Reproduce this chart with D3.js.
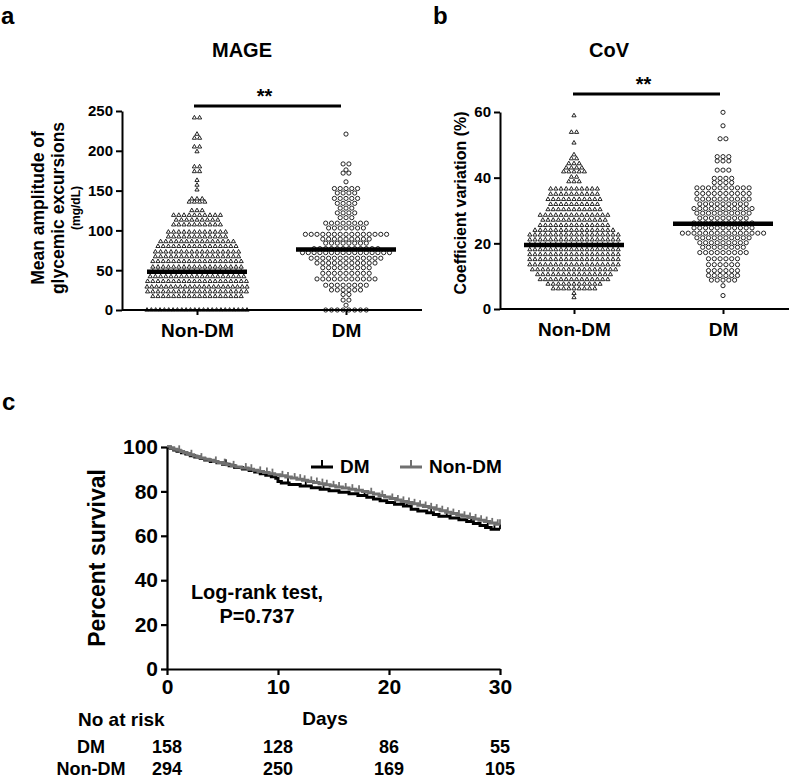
<!DOCTYPE html>
<html><head><meta charset="utf-8">
<script src="https://cdn.jsdelivr.net/npm/d3@7"></script>
<style>
body{margin:0;background:#fff}
text{font-family:"Liberation Sans",Arial,Helvetica,sans-serif;font-weight:bold;fill:#000}
</style>
</head><body>
<svg id="chart" width="799" height="779"></svg>
<script>
// ---------------- DATA ----------------
const groups = ["Non-DM", "DM"];

// Panel a: MAGE (mg/dL)
const mageTicks = [0, 50, 100, 150, 200, 250];
const mageNonDM = [
 243,240,221,218,214,206,204,199,182,178,176,172,163,157,151,
 140,140,139,138,136,135,134,
 125,126,124,
 119,119,120,118,119,120,119,118,120,119,
 113,114,112,113,113,114,112,113,114,
 107,108,106,107,107,108,106,107,108,107,
 98,99,97,98,98,99,97,98,99,98,97,98,
 92,93,91,92,92,93,91,92,93,92,91,92,
 86,87,85,86,86,87,85,86,87,86,85,86,87,86,85,
 80,81,79,80,80,81,79,80,81,80,79,80,81,80,79,80,
 73,74,72,73,73,74,72,73,74,73,72,73,74,73,72,73,74,
 67,68,66,67,67,68,66,67,68,67,66,67,68,67,66,67,68,
 61,62,60,61,61,62,60,61,62,61,60,61,62,61,60,61,62,61,
 54,55,53,54,54,55,53,54,55,54,53,54,55,54,53,54,55,54,
 48,49,47,48,48,49,47,48,49,48,47,48,49,48,47,48,49,48,
 42,43,41,42,42,43,41,42,43,42,41,42,43,42,41,42,43,42,41,
 36,37,35,36,36,37,35,36,37,36,35,36,37,36,35,36,37,36,35,36,
 29,30,28,29,29,30,28,29,30,29,28,29,30,29,28,29,30,29,28,29,30,29,
 23,24,22,23,23,24,22,23,24,23,22,23,24,23,22,23,24,23,22,23,
 17,18,16,17,17,18,16,17,18,17,16,17,18,17,16,17,18,17,
 0,0,0,0,0,0,0,0,0,0,0,0,0,0,0,0,0,0,0,0,0,0,0,0
];
const mageDM = [
 221,185,182,176,174,170,161,
 153,152,154,151,153,
 147,148,146,147,
 140,141,139,140,141,
 134,135,133,134,
 128,129,127,
 122,123,121,122,
 116,117,115,
 109,110,108,109,110,108,109,110,
 103,104,102,103,104,102,103,
 95,96,94,95,96,94,95,96,94,95,96,94,95,96,95,
 89,90,88,89,90,88,89,90,89,
 84,85,83,84,85,83,84,84,
 77,78,76,77,78,76,77,78,77,76,77,78,
 72,73,71,72,73,71,72,73,72,71,72,73,72,71,72,73,
 65,66,64,65,66,64,65,66,65,64,65,66,65,
 59,60,58,59,60,58,59,60,59,58,59,
 53,54,52,53,54,52,53,54,53,
 46,47,45,46,47,45,46,47,46,
 39,40,38,39,40,38,39,40,39,38,39,
 31,32,30,31,32,30,31,32,
 25,26,24,25,26,25,
 19,20,
 12,13,
 6,
 0,0,0,0,0,0,0,0
];
const mageCentre = [48, 76];

// Panel b: CoV (%)
const covTicks = [0, 20, 40, 60];
const covNonDM = [
 58.9,54.0,53.7,50.6,47.0,45.9,45.7,44.4,44.3,44.2,43.1,43.0,42.9,43.0,
 41.9,41.8,41.7,41.8,41.9,40.3,40.1,38.8,38.7,38.9,
 36.5,36.6,36.7,36.6,36.5,36.6,36.7,36.6,36.5,36.6,
 34.9,35.0,35.1,35.0,34.9,35.0,35.1,35.0,34.9,35.0,
 33.3,33.4,33.5,33.4,33.3,33.4,33.5,33.4,33.3,33.4,33.5,
 31.8,31.9,32.0,31.9,31.8,31.9,32.0,31.9,31.8,31.9,
 30.2,30.3,30.4,30.3,30.2,30.3,30.4,30.3,30.2,30.3,30.4,
 28.5,28.6,28.7,28.6,28.5,28.6,28.7,28.6,28.5,28.6,28.7,28.6,28.5,28.6,
 27.0,27.1,27.2,27.1,27.0,27.1,27.2,27.1,27.0,27.1,27.2,27.1,27.0,
 25.4,25.5,25.6,25.5,25.4,25.5,25.6,25.5,25.4,25.5,25.6,25.5,25.4,25.5,
 23.9,24.0,24.1,24.0,23.9,24.0,24.1,24.0,23.9,24.0,24.1,24.0,23.9,24.0,24.1,24.0,
 22.5,22.6,22.7,22.6,22.5,22.6,22.7,22.6,22.5,22.6,22.7,22.6,22.5,22.6,22.7,22.6,22.5,22.6,
 21.0,21.1,21.2,21.1,21.0,21.1,21.2,21.1,21.0,21.1,21.2,21.1,21.0,21.1,21.2,21.1,21.0,21.1,
 19.5,19.6,19.7,19.6,19.5,19.6,19.7,19.6,19.5,19.6,19.7,19.6,19.5,19.6,19.7,19.6,19.5,19.6,
 18.0,18.1,18.2,18.1,18.0,18.1,18.2,18.1,18.0,18.1,18.2,18.1,18.0,18.1,18.2,18.1,18.0,18.1,
 16.5,16.6,16.7,16.6,16.5,16.6,16.7,16.6,16.5,16.6,16.7,16.6,16.5,16.6,16.7,16.6,16.5,16.6,
 15.0,15.1,15.2,15.1,15.0,15.1,15.2,15.1,15.0,15.1,15.2,15.1,15.0,15.1,15.2,15.1,15.0,15.1,
 13.4,13.5,13.6,13.5,13.4,13.5,13.6,13.5,13.4,13.5,13.6,13.5,13.4,13.5,13.6,13.5,13.4,13.5,
 11.9,12.0,12.1,12.0,11.9,12.0,12.1,12.0,11.9,12.0,12.1,12.0,11.9,12.0,12.1,12.0,11.9,
 10.4,10.5,10.6,10.5,10.4,10.5,10.6,10.5,10.4,10.5,10.6,10.5,10.4,10.5,10.6,
 8.9,9.0,9.1,9.0,8.9,9.0,9.1,9.0,8.9,9.0,9.1,9.0,8.9,9.0,
 7.5,7.6,7.7,7.6,7.5,7.6,7.7,7.6,7.5,7.6,7.7,
 6.1,6.2,6.3,6.2,6.1,6.2,6.3,6.2,6.1,
 4.8,3.5
];
const covDM = [
 59.9,55.8,52.1,51.6,46.6,46.4,46.2,45.2,45.0,45.1,
 42.3,42.2,42.4,39.8,39.8,39.8,39.8,38.5,38.5,38.5,38.5,
 36.8,36.9,37.0,36.9,36.8,36.9,37.0,36.9,36.8,36.9,
 35.1,35.2,35.3,35.2,35.1,35.2,35.3,35.2,35.1,35.2,
 33.4,33.5,33.6,33.5,33.4,33.5,33.6,33.5,33.4,33.5,
 31.9,32.0,32.1,32.0,31.9,32.0,32.1,32.0,31.9,
 30.5,30.6,30.7,30.6,30.5,30.6,30.7,30.6,30.5,30.6,30.7,
 29.1,29.2,29.3,29.2,29.1,29.2,29.3,29.2,29.1,29.2,
 27.6,27.7,27.8,27.7,27.6,27.7,27.8,27.7,27.6,
 26.1,26.2,26.3,26.2,26.1,26.2,26.3,26.2,26.1,26.2,26.3,
 24.6,24.7,24.8,24.7,24.6,24.7,24.8,24.7,24.6,24.7,24.8,
 23.0,23.1,23.2,23.1,23.0,23.1,23.2,23.1,23.0,23.1,23.2,23.1,23.0,23.1,23.2,
 21.6,21.7,21.8,21.7,21.6,21.7,21.8,21.7,21.6,21.7,
 20.1,20.2,20.3,20.2,20.1,20.2,20.3,20.2,20.1,
 18.7,18.8,18.9,18.8,18.7,18.8,18.9,18.8,
 17.1,17.2,17.3,17.2,17.1,17.2,17.3,17.2,17.1,
 15.3,15.3,15.3,15.3,15.3,15.3,
 13.5,13.5,13.5,13.5,13.5,13.5,
 11.7,11.7,11.7,11.7,11.7,11.7,
 10.2,10.2,10.2,10.2,10.2,10.2,
 8.8,8.8,8.8,8.8,8.8,
 7.1,4.1
];
const covCentre = [19.5, 26];

// Panel c: Kaplan-Meier survival (%), step points
const kmDayTicks = [0, 10, 20, 30];
const kmPctTicks = [0, 20, 40, 60, 80, 100];
const dmTimes = [0,0.3,0.6,0.9,1.3,1.7,2.1,2.5,3.0,3.4,3.9,4.5,5.0,5.6,6.1,6.8,7.4,7.9,8.4,8.9,9.4,9.8,10.0,10.3,11.0,12.0,13.0,13.8,14.6,15.5,16.4,17.2,18.0,18.6,19.2,19.8,20.5,21.3,22.0,22.6,23.4,24.0,24.5,25.5,26.3,27.0,27.6,28.2,28.7,29.2];
const dmSurv  = [100,99.4,98.7,98.1,97.4,96.8,96.1,95.5,94.8,94.2,93.5,92.9,92.2,91.5,90.8,90.1,89.4,88.7,88.0,87.3,86.6,85.9,84.5,83.8,83.1,82.4,81.7,81.0,80.3,79.6,78.9,78.2,77.4,76.6,75.8,75.0,74.2,73.4,72.0,71.2,70.4,69.6,68.8,68.0,67.2,66.4,65.5,64.6,63.7,63.0];
const nonTimes = [0,0.3,0.6,0.9,1.2,1.5,1.8,2.1,2.4,2.7,3.0,3.4,3.8,4.2,4.6,5.0,5.4,5.8,6.2,6.7,7.3,7.8,8.2,8.7,9.2,9.7,10.2,10.7,11.2,11.7,12.2,12.7,13.2,13.7,14.2,14.7,15.2,15.8,16.4,17.0,17.6,18.1,18.6,19.1,19.6,20.1,20.6,21.1,21.6,22.1,22.6,23.1,23.6,24.1,24.6,25.1,25.6,26.1,26.6,27.1,27.6,28.1,28.6,29.1,29.6];
const nonSurv  = [100,99.5,99.0,98.5,98.0,97.5,97.0,96.5,96.0,95.5,95.0,94.5,94.0,93.5,93.0,92.5,92.0,91.5,91.0,90.5,90.0,89.5,89.0,88.5,88.0,87.5,87.0,86.5,86.0,85.5,85.0,84.5,84.0,83.5,83.0,82.5,82.0,81.5,81.0,80.5,80.0,79.4,78.8,78.2,77.5,76.8,76.1,75.5,75.0,74.4,73.8,73.2,72.6,72.0,71.3,70.6,70.0,69.4,68.8,68.2,67.6,67.0,66.4,65.8,65.2];
const dmCensored  = [5.3,10.9,12.5,14.1,17.8,21.6,23.8,25.2,27.4,28.9,29.5,30];
const nonCensored = [1.1,2.2,3.1,4.4,5.2,6.0,7.1,7.6,8.4,9.0,9.5,10.4,10.9,11.5,12.0,12.4,13.0,13.5,14.0,14.4,15.0,15.5,16.1,16.7,17.3,18.4,19.4,20.3,20.8,21.3,21.8,22.3,22.8,23.3,23.8,24.3,24.8,25.3,25.8,26.3,26.8,27.3,27.8,28.3,28.8,29.3,29.8,30];
const riskDays = [0, 10, 20, 30];
const riskDM = [158, 128, 86, 55];
const riskNonDM = [294, 250, 169, 105];

// ---------------- DRAW ----------------
const svg = d3.select("#chart");
const FONT = '"Liberation Sans",Arial,Helvetica,sans-serif';

function dotPanel(opt) {
  const g = svg.append("g");
  const y = d3.scaleLinear().domain([0, opt.max]).range([opt.y0, opt.yTop]);
  const x = d3.scalePoint().domain(groups).range(opt.catX);

  [opt.a, opt.b].forEach((vals, gi) => {
    const cx = x(groups[gi]);
    const pts = vals.map(v => ({v, py: y(v)})).sort((p, q) => q.py - p.py);
    const rows = [];
    pts.forEach(p => {
      const r = rows[rows.length - 1];
      if (r && r.start - p.py < 3.5) r.items.push(p);
      else rows.push({start: p.py, items: [p]});
    });
    const sp = gi === 0 ? opt.spT : opt.spC;
    rows.forEach(r => {
      const n = r.items.length;
      const my = d3.mean(r.items, p => p.py);
      const dx = n > 1 ? Math.min(sp, opt.maxW / (n - 1)) : 0;
      r.items.forEach((p, i) => { p.px = cx + (i - (n - 1) / 2) * dx; p.ry = my; });
    });
    const all = rows.flatMap(r => r.items);
    if (gi === 0) {
      g.selectAll(null).data(all).enter().append("path")
        .attr("d", d3.symbol(d3.symbolTriangle, 7.5)())
        .attr("transform", d => `translate(${d.px},${d.ry})`)
        .attr("fill", "#fff").attr("stroke", "#000").attr("stroke-width", 0.85);
    } else {
      g.selectAll(null).data(all).enter().append("circle")
        .attr("cx", d => d.px).attr("cy", d => d.ry).attr("r", 2.1)
        .attr("fill", "#fff").attr("stroke", "#000").attr("stroke-width", 0.85);
    }
  });

  g.selectAll(null).data(opt.centre).enter().append("line")
    .attr("x1", (d, i) => x(groups[i]) - 50).attr("x2", (d, i) => x(groups[i]) + 50)
    .attr("y1", d => y(d)).attr("y2", d => y(d))
    .attr("stroke", "#000").attr("stroke-width", 4.5);

  const ya = g.append("g").attr("transform", `translate(${opt.axX},0)`)
    .call(d3.axisLeft(y).tickValues(opt.ticks).tickSize(6).tickSizeOuter(0).tickPadding(3));
  ya.select(".domain").attr("stroke-width", 2);
  ya.selectAll(".tick line").attr("stroke-width", 2);
  ya.selectAll("text").style("font-family", FONT).style("font-weight", "bold").style("font-size", "15px");

  const xa = g.append("g").attr("transform", `translate(0,${opt.y0})`)
    .call(d3.axisBottom(x).tickSize(5).tickPadding(9));
  xa.select(".domain").remove();
  xa.append("line").attr("x1", opt.axX).attr("x2", opt.xEnd).attr("y1", 0).attr("y2", 0)
    .attr("stroke", "#000").attr("stroke-width", 2);
  xa.selectAll(".tick line").attr("stroke-width", 2);
  xa.selectAll("text").style("font-family", FONT).style("font-weight", "bold").style("font-size", "19px");

  g.append("line").attr("x1", opt.barX[0]).attr("x2", opt.barX[1])
    .attr("y1", opt.barY).attr("y2", opt.barY).attr("stroke", "#000").attr("stroke-width", 3.2);
  g.append("text").attr("x", (opt.barX[0] + opt.barX[1]) / 2 - 3).attr("y", opt.barY - 3)
    .attr("text-anchor", "middle").style("font-size", "20px").text("**");

  g.append("text").attr("x", opt.titleX).attr("y", 57).attr("text-anchor", "middle")
    .style("font-size", "20px").text(opt.title);
  g.append("text").attr("x", opt.letterX).attr("y", 24).style("font-size", "24px").text(opt.letter);
  return g;
}

dotPanel({
  a: mageNonDM, b: mageDM, max: 250, ticks: mageTicks, centre: mageCentre,
  y0: 310, yTop: 111, catX: [197, 346], axX: 122, xEnd: 422,
  spT: 5.2, spC: 5.8, maxW: 100,
  barX: [194, 341], barY: 106, title: "MAGE", titleX: 242, letter: "a", letterX: 1
});
dotPanel({
  a: covNonDM, b: covDM, max: 60, ticks: covTicks, centre: covCentre,
  y0: 309, yTop: 112, catX: [574, 723], axX: 500, xEnd: 789,
  spT: 5.2, spC: 5.8, maxW: 100,
  barX: [573, 720], barY: 94, title: "CoV", titleX: 609, letter: "b", letterX: 433
});

const la = svg.append("g").attr("transform", "translate(44,208) rotate(-90)");
la.append("text").attr("text-anchor", "middle").style("font-size", "17.5px").text("Mean amplitude of");
la.append("text").attr("y", 20).attr("text-anchor", "middle").style("font-size", "17.5px").text("glycemic excursions");
la.append("text").attr("y", 36).attr("text-anchor", "middle").style("font-size", "12px").text("(mg/dL)");
svg.append("text").attr("transform", "translate(466,203) rotate(-90)").attr("text-anchor", "middle")
  .style("font-size", "16px").text("Coefficient variation (%)");

// ---------------- Panel c ----------------
const kx = d3.scaleLinear().domain([0, 30]).range([167, 500]);
const ky = d3.scaleLinear().domain([0, 100]).range([669, 447]);
const gc = svg.append("g");
gc.append("text").attr("x", 2).attr("y", 410).style("font-size", "24px").text("c");

function stepAt(times, surv, t) {
  let s = surv[0];
  for (let i = 0; i < times.length; i++) if (times[i] <= t) s = surv[i];
  return s;
}
const curves = [
  {times: dmTimes, surv: dmSurv, cens: dmCensored, color: "#000"},
  {times: nonTimes, surv: nonSurv, cens: nonCensored, color: "#707070"}
];
const line = d3.line().x(d => kx(d[0])).y(d => ky(d[1])).curve(d3.curveStepAfter);
curves.forEach(c => {
  const pts = c.times.map((t, i) => [t, c.surv[i]]);
  pts.push([30, c.surv[c.surv.length - 1]]);
  gc.append("path").attr("d", line(pts)).attr("fill", "none")
    .attr("stroke", c.color).attr("stroke-width", 3);
  gc.selectAll(null).data(c.cens).enter().append("line")
    .attr("x1", d => kx(d)).attr("x2", d => kx(d))
    .attr("y1", d => ky(stepAt(c.times, c.surv, d)))
    .attr("y2", d => ky(stepAt(c.times, c.surv, d)) - 5)
    .attr("stroke", c.color).attr("stroke-width", 1.8);
});

const kya = gc.append("g").attr("transform", `translate(${kx(0)},0)`)
  .call(d3.axisLeft(ky).tickValues(kmPctTicks).tickSize(6).tickSizeOuter(0).tickPadding(3));
const kxa = gc.append("g").attr("transform", `translate(0,${ky(0)})`)
  .call(d3.axisBottom(kx).tickValues(kmDayTicks).tickSize(6).tickSizeOuter(0).tickPadding(4));
[kya, kxa].forEach(a => {
  a.select(".domain").attr("stroke-width", 2.2);
  a.selectAll(".tick line").attr("stroke-width", 2.2);
  a.selectAll("text").style("font-family", FONT).style("font-weight", "bold").style("font-size", "21px");
});

gc.append("text").attr("transform", "translate(105,558) rotate(-90)").attr("text-anchor", "middle")
  .style("font-size", "23px").text("Percent survival");
gc.append("text").attr("x", 257).attr("y", 599).attr("text-anchor", "middle").style("font-size", "20px").text("Log-rank test,");
gc.append("text").attr("x", 257).attr("y", 623).attr("text-anchor", "middle").style("font-size", "20px").text("P=0.737");

const legend = [{label: "DM", color: "#000", x: 311}, {label: "Non-DM", color: "#707070", x: 400}];
legend.forEach(l => {
  gc.append("line").attr("x1", l.x).attr("x2", l.x + 22).attr("y1", 467).attr("y2", 467)
    .attr("stroke", l.color).attr("stroke-width", 3);
  gc.append("line").attr("x1", l.x + 11).attr("x2", l.x + 11).attr("y1", 467).attr("y2", 460)
    .attr("stroke", l.color).attr("stroke-width", 2);
  gc.append("text").attr("x", l.x + 29).attr("y", 473).style("font-size", "19px").text(l.label);
});

gc.append("text").attr("x", 78).attr("y", 726).style("font-size", "19px").text("No at risk");
gc.append("text").attr("x", 325).attr("y", 725).attr("text-anchor", "middle").style("font-size", "19px").text("Days");
[[ "DM", riskDM, 753 ], [ "Non-DM", riskNonDM, 775 ]].forEach(([lab, arr, yy]) => {
  gc.append("text").attr("x", 91).attr("y", yy).attr("text-anchor", "middle").style("font-size", "18px").text(lab);
  gc.selectAll(null).data(arr).enter().append("text")
    .attr("x", (d, i) => kx(riskDays[i])).attr("y", yy).attr("text-anchor", "middle")
    .style("font-size", "18px").text(d => d);
});
</script>
</body></html>
